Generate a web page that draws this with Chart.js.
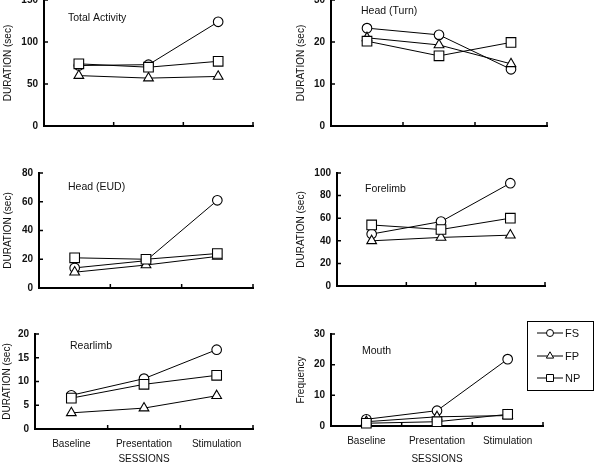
<!DOCTYPE html>
<html>
<head>
<meta charset="utf-8">
<script src="https://cdn.jsdelivr.net/npm/chart.js@4.4.1/dist/chart.umd.min.js"></script>
<style>
  html, body { margin: 0; padding: 0; background: #fff; overflow: hidden; }
  body { width: 599px; height: 466px; position: relative; }
  canvas { position: absolute; }
</style>
</head>
<body>
<canvas id="c1"></canvas>
<canvas id="c2"></canvas>
<canvas id="c3"></canvas>
<canvas id="c4"></canvas>
<canvas id="c5"></canvas>
<canvas id="c6"></canvas>
<script>
// categories and series
const sessions = ['Baseline', 'Presentation', 'Stimulation'];
const seriesNames = ['FS', 'FP', 'NP'];

const totalFS = [72, 73, 124];
const totalFP = [60, 57, 59];
const totalNP = [74, 70, 77];

const turnFS = [23.3, 21.7, 13.5];
const turnFP = [21, 19.3, 14.8];
const turnNP = [20.2, 16.7, 19.9];

const eudFS = [14, 19, 61];
const eudFP = [11, 16, 22];
const eudNP = [21, 20, 24];

const foreFS = [46, 57, 91];
const foreFP = [40, 43, 45];
const foreNP = [54, 50, 60];

const rearFS = [7.1, 10.6, 16.7];
const rearFP = [3.4, 4.4, 7.0];
const rearNP = [6.5, 9.4, 11.3];

const mouthFS = [2.2, 5, 21.8];
const mouthFP = [1.4, 3, 3.4];
const mouthNP = [0.9, 1.4, 3.8];

const FONT = '"Liberation Sans", Arial, sans-serif';

// marker looks per series
const marks = [
  { style: 'circle', r: 4.8, order: 3 },
  { style: 'triangle', r: 5.6, order: 2 },
  { style: 'rect', r: 6.8, order: 1 }
];

// panel frames (page px) and axis setup
const panels = [
  { id: 'c1', col: 0, l: 44, t: 0, r: 253, b: 126, max: 150, step: 50, label: 'Total Activity', dx: 24, dy: 18,
    yTitle: 'DURATION (sec)', tPad: 2, data: [totalFS, totalFP, totalNP] },
  { id: 'c2', col: 290, l: 331, t: 0, r: 547, b: 126, max: 30, step: 10, label: 'Head (Turn)', dx: 30, dy: 11,
    yTitle: 'DURATION (sec)', tPad: 5, data: [turnFS, turnFP, turnNP] },
  { id: 'c3', col: 0, l: 39, t: 173, r: 253, b: 288, max: 80, step: 20, label: 'Head (EUD)', dx: 29, dy: 14,
    yTitle: 'DURATION (sec)', tPad: 2, data: [eudFS, eudFP, eudNP] },
  { id: 'c4', col: 290, l: 337, t: 173, r: 545, b: 286, max: 100, step: 20, label: 'Forelimb', dx: 28, dy: 16,
    yTitle: 'DURATION (sec)', tPad: 5, data: [foreFS, foreFP, foreNP] },
  { id: 'c5', col: 0, l: 35, t: 334, r: 253, b: 429, max: 20, step: 5, label: 'Rearlimb', dx: 35, dy: 12,
    yTitle: 'DURATION (sec)', tPad: 1, data: [rearFS, rearFP, rearNP], bottom: true },
  { id: 'c6', col: 290, l: 331, t: 334, r: 543, b: 426, max: 30, step: 10, label: 'Mouth', dx: 31, dy: 17,
    yTitle: 'Frequency', tPad: 5, data: [mouthFS, mouthFP, mouthNP], bottom: true, legend: true }
];

function drawMark(ctx, style, x, y, r) {
  ctx.beginPath();
  if (style === 'circle') {
    ctx.arc(x, y, r, 0, Math.PI * 2);
  } else if (style === 'triangle') {
    ctx.moveTo(x, y - r);
    ctx.lineTo(x + r * 0.866, y + r / 2);
    ctx.lineTo(x - r * 0.866, y + r / 2);
    ctx.closePath();
  } else {
    ctx.rect(x - r, y - r, 2 * r, 2 * r);
  }
  ctx.fill();
  ctx.stroke();
}

const panelDecor = {
  id: 'panelDecor',
  afterDraw(chart, args, opts) {
    const { ctx, chartArea: a, scales: { x, y } } = chart;
    ctx.save();
    ctx.strokeStyle = '#000';
    ctx.lineWidth = 1.5;
    ctx.beginPath();
    // inward ticks on the y axis
    y.ticks.forEach(t => {
      const py = y.getPixelForValue(t.value);
      ctx.moveTo(a.left, py);
      ctx.lineTo(a.left + 4, py);
    });
    // inward ticks between the sessions
    for (let i = 0; i < sessions.length; i++) {
      const px = x.getPixelForValue(i + 0.5);
      ctx.moveTo(px, a.bottom);
      ctx.lineTo(px, a.bottom - 4);
    }
    ctx.stroke();

    ctx.fillStyle = '#111';
    ctx.font = '10.5px ' + FONT;
    ctx.textBaseline = 'middle';
    ctx.fillText(opts.label, a.left + opts.dx, a.top + opts.dy);

    if (opts.legend) {
      const bx = a.right - 16, by = a.top - 13;
      ctx.lineWidth = 1;
      ctx.strokeRect(bx + 0.5, by + 0.5, 66, 69);
      const rows = [12, 35, 57];
      ctx.font = '11px ' + FONT;
      seriesNames.forEach((name, i) => {
        const ly = by + rows[i];
        ctx.beginPath();
        ctx.moveTo(bx + 10, ly);
        ctx.lineTo(bx + 36, ly);
        ctx.stroke();
        ctx.fillStyle = '#fff';
        drawMark(ctx, marks[i].style, bx + 23, ly, i === 1 ? 4.2 : 3.5);
        ctx.fillStyle = '#111';
        ctx.fillText(name, bx + 38, ly + 0.5);
      });
    }
    ctx.restore();
  }
};

const PAD_TOP = 15;

panels.forEach(p => {
  const canvas = document.getElementById(p.id);
  const width = p.col === 0 ? 300 : 310;
  const xh = p.bottom ? 40 : 12;
  const height = PAD_TOP + (p.b - p.t) + xh;
  canvas.width = width;
  canvas.height = height;
  canvas.style.left = p.col + 'px';
  canvas.style.top = (p.t - PAD_TOP) + 'px';
  const canvasBottom = p.t - PAD_TOP + height;

  new Chart(canvas, {
    type: 'line',
    data: {
      labels: sessions,
      datasets: seriesNames.map((name, i) => ({
        label: name,
        data: p.data[i],
        borderColor: '#000',
        borderWidth: 1,
        backgroundColor: '#fff',
        pointStyle: marks[i].style,
        pointRadius: marks[i].r,
        pointHoverRadius: marks[i].r,
        pointBorderWidth: 1.1,
        pointBackgroundColor: '#fff',
        pointBorderColor: '#000',
        order: marks[i].order,
        clip: false,
        tension: 0
      }))
    },
    options: {
      responsive: false,
      animation: false,
      events: [],
      layout: { padding: { top: PAD_TOP, right: p.col + width - p.r, bottom: 0, left: 0 } },
      plugins: {
        legend: { display: false },
        tooltip: { enabled: false },
        panelDecor: { label: p.label, dx: p.dx, dy: p.dy, legend: !!p.legend }
      },
      scales: {
        x: {
          offset: true,
          grid: { display: false, drawTicks: false },
          border: { display: true, color: '#000', width: 2 },
          ticks: {
            display: !!p.bottom,
            color: '#111',
            padding: 9,
            maxRotation: 0,
            font: { family: FONT, size: 10 }
          },
          title: {
            display: !!p.bottom,
            text: 'SESSIONS',
            color: '#111',
            font: { family: FONT, size: 10 },
            padding: { top: 0, bottom: canvasBottom - 459 - 6 }
          },
          afterFit(scale) { scale.height = xh; }
        },
        y: {
          min: 0,
          max: p.max,
          grid: { display: false, drawTicks: false },
          border: { display: true, color: '#000', width: 2 },
          ticks: {
            stepSize: p.step,
            color: '#111',
            padding: 6,
            font: { family: FONT, size: 10, weight: 'bold' }
          },
          title: {
            display: true,
            text: p.yTitle,
            color: '#111',
            font: { family: FONT, size: 10 },
            padding: { top: p.tPad, bottom: 0 }
          },
          afterFit(scale) { scale.width = p.l - p.col; }
        }
      }
    },
    plugins: [panelDecor]
  });
});
</script>
</body>
</html>
